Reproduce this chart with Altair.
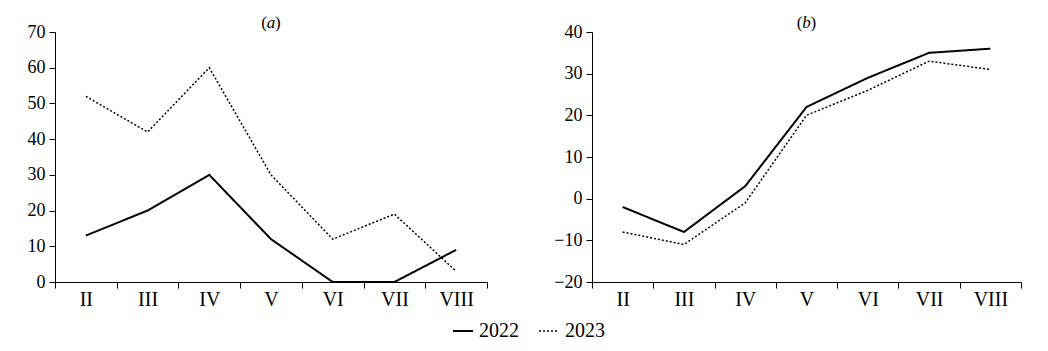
import altair as alt
import pandas as pd

months = ["II", "III", "IV", "V", "VI", "VII", "VIII"]
a_2022 = [13, 20, 30, 12, 0, 0, 9]
a_2023 = [52, 42, 60, 30, 12, 19, 3]
b_2022 = [-2, -8, 3, 22, 29, 35, 36]
b_2023 = [-8, -11, -1, 20, 26, 33, 31]
series = ["2022", "2023"]

def frame(v22, v23):
    rows = []
    for m, v in zip(months, v22):
        rows.append({"month": m, "value": v, "year": "2022"})
    for m, v in zip(months, v23):
        rows.append({"month": m, "value": v, "year": "2023"})
    return pd.DataFrame(rows)

FONT = "Liberation Serif"

def panel(df, domain, tickvals, letter, w):
    base = alt.Chart(df)
    line = base.mark_line(color="black").encode(
        x=alt.X("month:O", sort=months, scale=alt.Scale(type="band", paddingInner=0, paddingOuter=0),
                axis=alt.Axis(title=None, tickBand="extent", labelAngle=0, tickSize=6, labelPadding=1,
                              labelFontSize=20)),
        y=alt.Y("value:Q", scale=alt.Scale(domain=domain, nice=False, zero=False),
                axis=alt.Axis(title=None, values=tickvals, tickSize=6, labelPadding=4, labelFontSize=18)),
        strokeDash=alt.StrokeDash("year:N", scale=alt.Scale(domain=series, range=[[1, 0], [2, 2]]),
                                  legend=alt.Legend(title=None, orient="none", legendX=397, legendY=288,
                                                    direction="horizontal",
                                                    symbolType="stroke", symbolSize=400,
                                                    symbolStrokeColor="black", columnPadding=17,
                                                    labelOffset=5)),
        strokeWidth=alt.StrokeWidth("year:N", scale=alt.Scale(domain=series, range=[2, 1.5]), legend=None),
    )
    t_open = alt.Chart(pd.DataFrame({"t": ["("]})).mark_text(font=FONT, fontSize=17, color="black", align="right").encode(
        text="t:N", x=alt.value(w / 2 - 4), y=alt.value(-9))
    t_let = alt.Chart(pd.DataFrame({"t": [letter]})).mark_text(font=FONT, fontSize=17, fontStyle="italic", color="black").encode(
        text="t:N", x=alt.value(w / 2), y=alt.value(-9))
    t_close = alt.Chart(pd.DataFrame({"t": [")"]})).mark_text(font=FONT, fontSize=17, color="black", align="left").encode(
        text="t:N", x=alt.value(w / 2 + 4), y=alt.value(-9))
    return alt.layer(line, t_open, t_let, t_close).properties(width=w, height=250)

pa = panel(frame(a_2022, a_2023), [0, 70], [0, 10, 20, 30, 40, 50, 60, 70], "a", 432)
pb = panel(frame(b_2022, b_2023), [-20, 40], [-20, -10, 0, 10, 20, 30, 40], "b", 429)

chart = alt.hconcat(pa, pb, spacing=65).configure(
    padding={"left": 27, "top": 14, "right": 5, "bottom": 0},
    font=FONT,
).configure_view(stroke=None).configure_axis(
    labelFont=FONT, labelColor="black", domainColor="black",
    tickColor="black", grid=False,
).configure_legend(
    labelFont=FONT, labelFontSize=20, labelColor="black", symbolStrokeWidth=2,
)

chart.save("out.html", embed_options={"renderer": "svg", "actions": False})
